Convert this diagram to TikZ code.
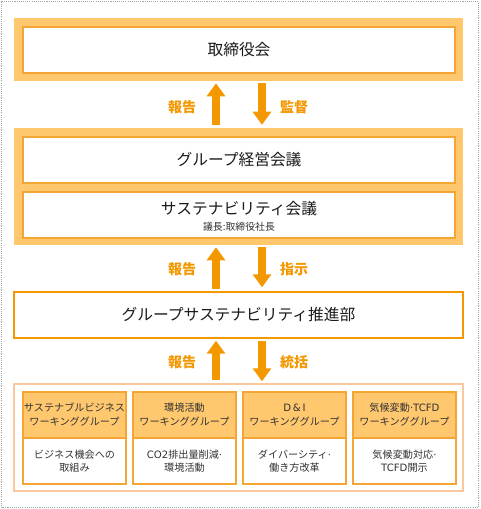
\documentclass[tikz,border=0pt]{standalone}
\usepackage{fontspec}
\setmainfont{Noto Sans CJK JP}
\newfontfamily\latn{DejaVu Sans}
\usetikzlibrary{arrows.meta,positioning}
\definecolor{frameor}{HTML}{FFC76E}
\definecolor{lineor}{HTML}{F5A533}
\definecolor{arrowor}{HTML}{F39800}
\definecolor{contor}{HTML}{FBC79C}
\definecolor{maintext}{HTML}{1A1A1A}
\definecolor{subtext}{HTML}{333333}
\tikzset{
  frame/.style={fill=frameor, draw=none, minimum width=449*0.75pt, inner sep=0pt},
  innerbox/.style={fill=white, draw=lineor, line width=0.9pt, minimum width=432*0.75pt, minimum height=46*0.75pt, inner sep=0pt, text=maintext, font=\fontsize{11.8pt}{14pt}\selectfont},
  mainbox/.style={fill=white, draw=arrowor, line width=1pt, minimum width=449*0.75pt, minimum height=46*0.75pt, inner sep=0pt, text=maintext, font=\fontsize{11.8pt}{14pt}\selectfont},
  container/.style={fill=white, draw=contor, line width=1pt, minimum width=449*0.75pt, minimum height=107*0.75pt, inner sep=0pt},
  wghead/.style={fill=frameor, draw=lineor, line width=0.8pt, minimum width=103*0.75pt, minimum height=46*0.75pt, inner sep=0pt, align=center, text=subtext, font=\fontsize{7.6pt}{10.5pt}\selectfont},
  wgbody/.style={fill=white, draw=lineor, line width=0.8pt, minimum width=103*0.75pt, minimum height=46*0.75pt, inner sep=0pt, align=center, text=subtext, font=\fontsize{7.6pt}{10.2pt}\selectfont},
  bigarrow/.style={draw=arrowor, line width=5.4pt, -{Triangle[width=13.5pt,length=9.8pt]}, arrowor},
  lbl/.style={text=arrowor, font=\fontsize{10.5pt}{12pt}\selectfont\bfseries, inner sep=0pt},
}
\begin{document}
\begin{tikzpicture}[x=0.75pt,y=-0.75pt]
\useasboundingbox (0,0) rectangle (480,509);
\draw[gray!70, line width=0.9pt, dash pattern=on 0.8pt off 0.8pt] (1.5,1.5) rectangle (478.5,507.5);

% frame 1
\node[frame, minimum height=63*0.75pt] (f1) at (238.5,49.5) {};
\node[innerbox] (board) at (239,50) {取締役会};

% frame 2
\node[frame, minimum height=117*0.75pt] (f2) at (238.5,186.5) {};
\node[innerbox] (mgmt) at (239,160) {グループ経営会議};
\node[innerbox] (sust) at (239,215) {};
\node[text=maintext, font=\fontsize{11.8pt}{14pt}\selectfont, inner sep=0pt] (susttitle) at (239,209) {サステナビリティ会議};
\node[text=subtext, font=\fontsize{7.4pt}{9pt}\selectfont, inner sep=0pt] (chair) at (239,227) {議長:取締役社長};

% box 3
\node[mainbox] (dept) at (238.5,315) {グループサステナビリティ推進部};

% container
\node[container] (cont) at (238.5,437.5) {};
\node[wghead] (h1) at (74.5,415) {サステナブルビジネス\\ワーキンググループ};
\node[wgbody] (b1) at (74.5,461) {ビジネス機会への\\取組み};
\node[wghead] (h2) at (184.5,415) {環境活動\\ワーキンググループ};
\node[wgbody] (b2) at (184.5,461) {{\latn CO2}排出量削減{\latn ·}\\環境活動};
\node[wghead] (h3) at (294.5,415) {{\latn D\,\&\,I}\\ワーキンググループ};
\node[wgbody] (b3) at (294.5,461) {ダイバーシティ{\latn ·}\\働き方改革};
\node[wghead] (h4) at (404.5,415) {気候変動{\latn ·TCFD}\\ワーキンググループ};
\node[wgbody] (b4) at (404.5,461) {気候変動対応{\latn ·}\\{\latn TCFD}開示};

% arrows between frame1 and frame2
\coordinate (f1L) at ([xshift=-22.5*0.75pt]f1.south);
\coordinate (f1R) at ([xshift=23.5*0.75pt]f1.south);
\coordinate (f2TL) at ([xshift=-22.5*0.75pt]f2.north);
\coordinate (f2TR) at ([xshift=23.5*0.75pt]f2.north);
\draw[bigarrow, shorten >=1.5pt, shorten <=2.2pt] (f2TL) -- (f1L);
\draw[bigarrow, shorten >=2.2pt, shorten <=1.5pt] (f1R) -- (f2TR);
\node[lbl] (r1) at (182,107) {報告};
\node[lbl] (k1) at (294,107) {監督};

% arrows between frame2 and dept
\coordinate (f2BL) at ([xshift=-22.5*0.75pt]f2.south);
\coordinate (f2BR) at ([xshift=23.5*0.75pt]f2.south);
\coordinate (dTL) at ([xshift=-22.5*0.75pt]dept.north);
\coordinate (dTR) at ([xshift=23.5*0.75pt]dept.north);
\draw[bigarrow, shorten >=1.5pt, shorten <=1.5pt] (dTL) -- (f2BL);
\draw[bigarrow, shorten >=3pt, shorten <=1.5pt] (f2BR) -- (dTR);
\node[lbl] (r2) at (182,269) {報告};
\node[lbl] (s2) at (294,269) {指示};

% arrows between dept and container
\coordinate (dBL) at ([xshift=-22.5*0.75pt]dept.south);
\coordinate (dBR) at ([xshift=23.5*0.75pt]dept.south);
\coordinate (cTL) at ([xshift=-22.5*0.75pt]cont.north);
\coordinate (cTR) at ([xshift=23.5*0.75pt]cont.north);
\draw[bigarrow, shorten >=1.5pt, shorten <=2.2pt] (cTL) -- (dBL);
\draw[bigarrow, shorten >=1.5pt, shorten <=1.5pt] (dBR) -- (cTR);
\node[lbl] (r3) at (182,362) {報告};
\node[lbl] (t3) at (294,362) {統括};
\end{tikzpicture}
\end{document}
